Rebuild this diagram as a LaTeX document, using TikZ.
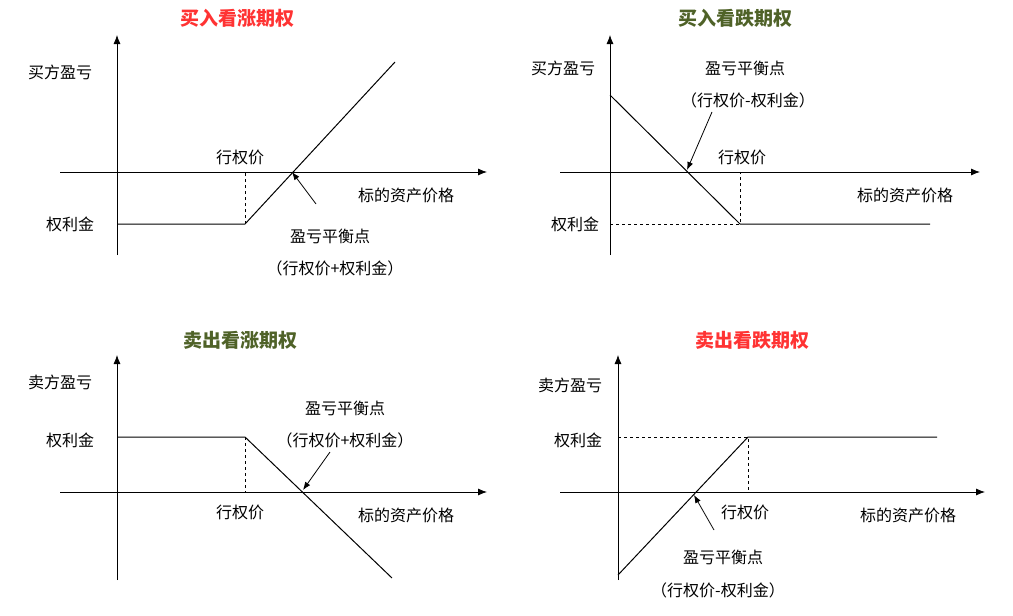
\documentclass[tikz,border=0pt]{standalone}
\usepackage{fontspec}
\setmainfont{Noto Sans CJK SC}
\usetikzlibrary{positioning, calc, arrows.meta}
\definecolor{titlered}{HTML}{FF3333}
\definecolor{titlegreen}{HTML}{4F6228}

\begin{document}
\begin{tikzpicture}[x=1pt, y=-1pt]
\tikzset{Axis/.style={line width=0.8pt, -{Latex[length=9pt,width=7pt]}}}
\tikzset{Pay/.style={line width=1pt}}
\tikzset{Guide/.style={dashed, line width=0.6pt}}
\tikzset{Lab/.style={font=\fontsize{16}{18}\selectfont, inner sep=1pt}}
\tikzset{Title/.style={font=\fontsize{19}{21}\selectfont\bfseries, inner sep=1pt}}
\tikzset{Pointer/.style={line width=0.8pt, -{Latex[length=8pt,width=6pt]}}}
\useasboundingbox (0,0) rectangle (1013,616);

% buy call
\node[Title, text=titlered] (t1) at (237,18) {买入看涨期权};
\coordinate (y1a) at (117,255); \coordinate (y1b) at (117,35);
\coordinate (x1a) at (60,172);  \coordinate (x1b) at (487,172);
\draw[Axis] (y1a) -- (y1b);
\draw[Axis] (x1a) -- (x1b);
\node[Lab] (l1) at (60,72) {买方盈亏};
\node[Lab] (p1) at (70,224) {权利金};
\node[Lab] (k1) at (240,157) {行权价};
\node[Lab] (s1) at (406,195) {标的资产价格};
\coordinate (a1) at (117,224); \coordinate (b1) at (245,224); \coordinate (c1) at (395,62);
\coordinate (e1) at (292,172); \coordinate (f1) at (316,204);
\draw[Pay] (a1) -- (b1) -- (c1);
\draw[Guide] (b1) -- (245,172);
\draw[Pointer] (f1) -- (e1);
\node[Lab] (be1) at (330,236) {盈亏平衡点};
\node[Lab] (bf1) at (335,268) {（行权价+权利金）};

% buy put
\node[Title, text=titlegreen] (t2) at (735,18) {买入看跌期权};
\coordinate (y2a) at (610,255); \coordinate (y2b) at (610,35);
\coordinate (x2a) at (560,172); \coordinate (x2b) at (980,172);
\draw[Axis] (y2a) -- (y2b);
\draw[Axis] (x2a) -- (x2b);
\node[Lab] (l2) at (563,68) {买方盈亏};
\node[Lab] (p2) at (575,224) {权利金};
\node[Lab] (k2) at (742,157) {行权价};
\node[Lab] (s2) at (905,195) {标的资产价格};
\coordinate (a2) at (610,95); \coordinate (b2) at (740,224); \coordinate (c2) at (930,224);
\coordinate (e2) at (687,170); \coordinate (f2) at (712,112);
\draw[Pay] (a2) -- (b2) -- (c2);
\draw[Guide] (610,224) -- (b2) -- (740,172);
\draw[Pointer] (f2) -- (e2);
\node[Lab] (be2) at (745,68) {盈亏平衡点};
\node[Lab] (bf2) at (748,100) {（行权价-权利金）};

% sell call
\node[Title, text=titlegreen] (t3) at (240,340) {卖出看涨期权};
\coordinate (y3a) at (117,580); \coordinate (y3b) at (117,355);
\coordinate (x3a) at (60,492);  \coordinate (x3b) at (487,492);
\draw[Axis] (y3a) -- (y3b);
\draw[Axis] (x3a) -- (x3b);
\node[Lab] (l3) at (60,382) {卖方盈亏};
\node[Lab] (p3) at (70,440) {权利金};
\node[Lab] (k3) at (240,512) {行权价};
\node[Lab] (s3) at (406,515) {标的资产价格};
\coordinate (a3) at (117,437); \coordinate (b3) at (245,437); \coordinate (c3) at (392,578);
\coordinate (e3) at (303,490); \coordinate (f3) at (330,452);
\draw[Pay] (a3) -- (b3) -- (c3);
\draw[Guide] (b3) -- (245,492);
\draw[Pointer] (f3) -- (e3);
\node[Lab] (be3) at (345,408) {盈亏平衡点};
\node[Lab] (bf3) at (345,440) {（行权价+权利金）};

% sell put
\node[Title, text=titlered] (t4) at (752,340) {卖出看跌期权};
\coordinate (y4a) at (618,580); \coordinate (y4b) at (618,355);
\coordinate (x4a) at (560,492); \coordinate (x4b) at (985,492);
\draw[Axis] (y4a) -- (y4b);
\draw[Axis] (x4a) -- (x4b);
\node[Lab] (l4) at (570,385) {卖方盈亏};
\node[Lab] (p4) at (578,440) {权利金};
\node[Lab] (k4) at (745,512) {行权价};
\node[Lab] (s4) at (908,515) {标的资产价格};
\coordinate (a4) at (618,575); \coordinate (b4) at (748,437); \coordinate (c4) at (937,437);
\coordinate (e4) at (694,495); \coordinate (f4) at (714,530);
\draw[Pay] (a4) -- (b4) -- (c4);
\draw[Guide] (618,437) -- (b4) -- (748,492);
\draw[Pointer] (f4) -- (e4);
\node[Lab] (be4) at (723,557) {盈亏平衡点};
\node[Lab] (bf4) at (718,590) {（行权价-权利金）};
\end{tikzpicture}
\end{document}
